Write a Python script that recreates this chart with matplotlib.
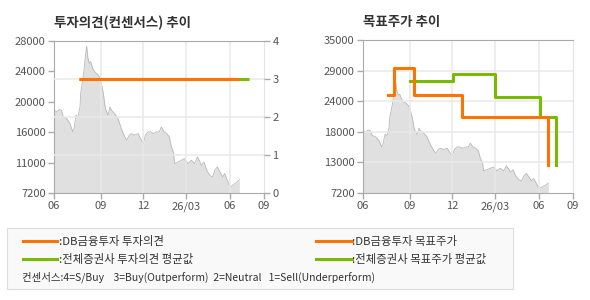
import numpy as np
import matplotlib
matplotlib.use('Agg')
import matplotlib.pyplot as plt
from matplotlib.lines import Line2D
from matplotlib.patches import Rectangle

plt.rcParams['font.family'] = ['Noto Sans CJK KR', 'DejaVu Sans']

# trading-day index on the x axis
tick_days = [0, 70, 133.5, 197.5, 263.5, 315]
tick_labels = ['06', '09', '12', '26/03', '06', '09']

price_days = [0, 4, 8, 11, 14, 19, 24, 28, 30, 33, 36, 39, 40, 43, 45, 47, 49, 51, 53, 55,
              58, 61, 64, 68, 71, 74, 77, 79, 81, 84, 86, 91, 96, 101, 105, 109, 113, 116, 121, 126,
              131, 134, 137, 141, 145, 149, 154, 158, 161, 165, 169, 173, 176, 179, 181, 186, 191, 196, 201, 206,
              211, 215, 219, 221, 225, 229, 234, 238, 241, 245, 249, 253, 256, 260, 264, 268, 271, 275, 278]
price = [18540, 18310, 18630, 18540, 17620, 17390, 16710, 15570, 16020, 17850,
         17620, 18990, 20820, 22650, 24020, 25850, 27310, 25620, 24940, 25170,
         24250, 23790, 23560, 23110, 22190, 20820, 18770, 18310, 17850, 18990,
         18540, 18080, 17390, 16020, 15110, 14420, 15110, 15340, 15110, 15340,
         14420, 13970, 15110, 15570, 15570, 15340, 15570, 15570, 16250, 15570,
         15340, 14880, 13510, 12820, 11220, 11450, 11680, 11910, 11220, 11680,
         11220, 12140, 11450, 10990, 11450, 10310, 9620, 9390, 10310, 10770,
         10080, 9390, 9850, 8940, 8020, 8250, 8480, 8710, 9030]

# 투자의견 (left chart)
db_op_days = [37, 277]
db_op = [3, 3]
avg_op_days = [37, 292]
avg_op = [3, 3]

# 목표주가 (right chart)
db_tp_days = [37, 47, 77, 148, 277]
db_tp = [25000, 30000, 25000, 21000, 12200]
avg_tp_days = [70, 135, 198, 265, 290]
avg_tp = [27500, 28800, 24600, 21000, 12200]

left_ylim = (7200, 28000)
left_ylabels = ['7200', '11000', '16000', '20000', '24000', '28000']
right_ylim = (7200, 35000)
right_ylabels = ['7200', '13000', '18000', '24000', '29000', '35000']
op_ticks = [0, 1, 2, 3, 4]

ORANGE = '#ff7300'
GREEN = '#7aba00'
GRID = '#e9e9e9'
SPINE = '#aaaaaa'
TXT = '#555555'
LW = 2.2

fig = plt.figure(figsize=(5.9, 3.0), dpi=100)


def base_axes(rect, ylim, ylabels):
    ax = fig.add_axes(rect)
    ax.fill_between(price_days, price, ylim[0], color='#e0e0e0', lw=0, zorder=1)
    ax.plot(price_days, price, color='#b8b8b8', lw=0.6, zorder=1.5)
    ax.set_xlim(0, 315)
    ax.set_ylim(*ylim)
    ax.set_xticks(tick_days)
    ax.set_xticklabels(tick_labels)
    ax.set_yticks(np.linspace(ylim[0], ylim[1], len(ylabels)))
    ax.set_yticklabels(ylabels)
    for d in tick_days[1:-1]:
        ax.axvline(d, color=GRID, lw=1.1, zorder=2)
    for s in ['left', 'bottom', 'top']:
        ax.spines[s].set_color(SPINE)
    ax.spines['right'].set_color('#e4e4e4')
    ax.tick_params(length=4, width=1, color=SPINE, labelsize=8, labelcolor=TXT, pad=2)
    return ax


# left chart
ax1 = base_axes([54 / 590, 107 / 300, 210 / 590, 152 / 300], left_ylim, left_ylabels)
ax1b = ax1.twinx()
ax1b.set_ylim(0, 4)
ax1b.set_yticks(op_ticks)
ax1b.set_yticklabels([str(t) for t in op_ticks])
for t in op_ticks[1:-1]:
    ax1b.axhline(t, color=GRID, lw=1.1, zorder=1)
ax1b.plot(avg_op_days, avg_op, color=GREEN, lw=LW, solid_capstyle='butt', zorder=3)
ax1b.plot(db_op_days, db_op, color=ORANGE, lw=LW, solid_capstyle='butt', zorder=4)
for s in ax1b.spines.values():
    s.set_visible(False)
ax1b.tick_params(length=4, width=1, color=SPINE, labelsize=8, labelcolor=TXT, pad=2)
ax1.set_title('투자의견(컨센서스) 추이', loc='left', fontsize=9.7, fontweight='bold',
              color='#333333', x=0.0, y=1.0, pad=10)

# right chart
ax2 = base_axes([363 / 590, 107 / 300, 210 / 590, 153 / 300], right_ylim, right_ylabels)
for y in np.linspace(right_ylim[0], right_ylim[1], 6)[1:-1]:
    ax2.axhline(y, color=GRID, lw=1.1, zorder=2)
ax2.plot(avg_tp_days, avg_tp, color=GREEN, lw=LW, drawstyle='steps-post', zorder=3)
ax2.plot(db_tp_days, db_tp, color=ORANGE, lw=LW, drawstyle='steps-post', zorder=4)
ax2.set_title('목표주가 추이', loc='left', fontsize=9.7, fontweight='bold',
              color='#333333', x=0.0, y=1.0, pad=10)

# legend box
fig.patches.append(Rectangle((7 / 590, 11 / 300), 506 / 590, 61 / 300, transform=fig.transFigure,
                             facecolor='#f9f9f9', edgecolor='#dcdcdc', lw=0.8))
rows = [(59 / 300, ORANGE, ':DB금융투자 투자의견', ':DB금융투자 목표주가'),
        (41 / 300, GREEN, ':전체증권사 투자의견 평균값', ':전체증권사 목표주가 평균값')]
for y, col, t1, t2 in rows:
    fig.lines.append(Line2D([23 / 590, 57 / 590], [y, y], transform=fig.transFigure, color=col, lw=LW))
    fig.text(59 / 590, y, t1, fontsize=8.2, color='#333333', va='center')
    fig.lines.append(Line2D([316 / 590, 352 / 590], [y, y], transform=fig.transFigure, color=col, lw=LW))
    fig.text(352 / 590, y, t2, fontsize=8.2, color='#333333', va='center')
fig.text(22 / 590, 23 / 300, '컨센서스:4=S/Buy    3=Buy(Outperform)  2=Neutral   1=Sell(Underperform)',
         fontsize=7.5, color='#333333', va='center')

fig.savefig('out.png', dpi=100)
